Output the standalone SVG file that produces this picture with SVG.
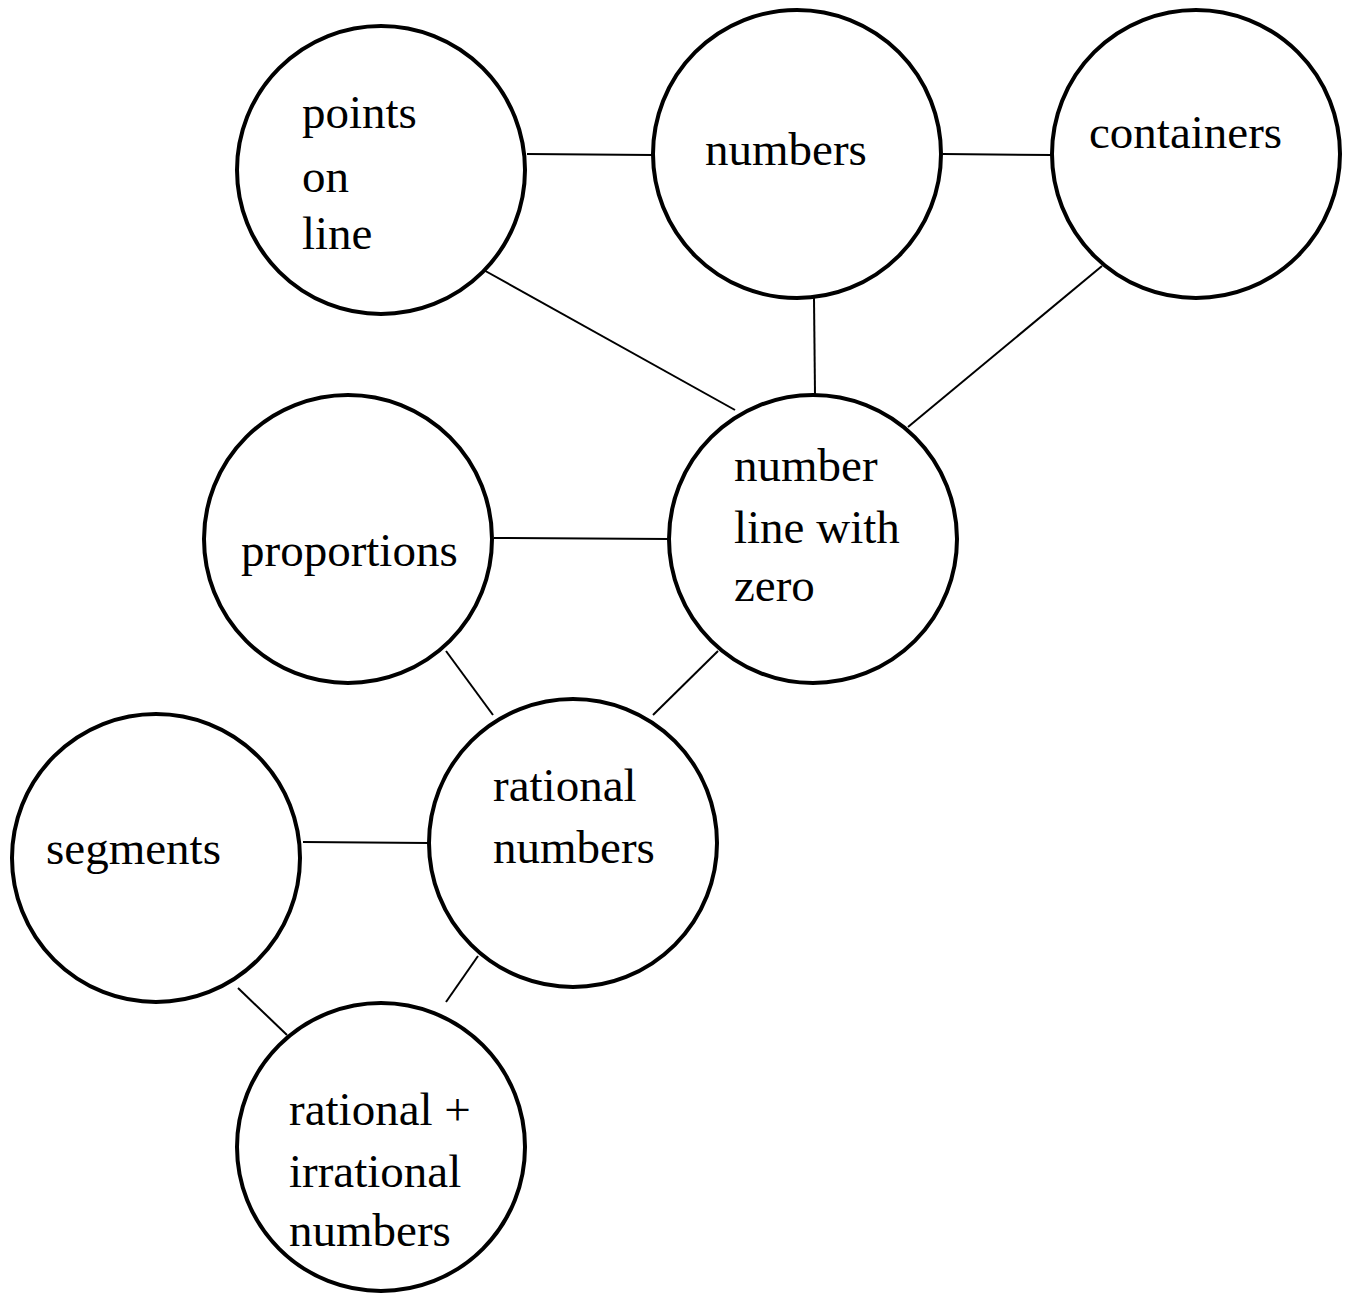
<svg xmlns="http://www.w3.org/2000/svg" width="1346" height="1297" viewBox="0 0 1346 1297">
<style>
.n{fill:#fff;stroke:#000;stroke-width:4}
.e{stroke:#000;stroke-width:2;fill:none}
text{font-family:"Liberation Serif","Times New Roman",serif;font-size:47px;fill:#000}
</style>
<rect width="1346" height="1297" fill="#fff"/>
<g id="connectors">
<line class="e" x1="527" y1="154" x2="653" y2="155"/>
<line class="e" x1="943" y1="154" x2="1052" y2="155"/>
<line class="e" x1="480" y1="268" x2="735" y2="410"/>
<line class="e" x1="814" y1="298" x2="815" y2="395"/>
<line class="e" x1="1102" y1="266" x2="908" y2="427"/>
<line class="e" x1="494" y1="538" x2="669" y2="539"/>
<line class="e" x1="446" y1="651" x2="493" y2="715"/>
<line class="e" x1="718" y1="651" x2="653" y2="715"/>
<line class="e" x1="303" y1="842" x2="429" y2="843"/>
<line class="e" x1="238" y1="988" x2="287" y2="1035"/>
<line class="e" x1="478" y1="956" x2="446" y2="1002"/>
</g>
<g id="points-on-line"><circle class="n" cx="381" cy="170" r="144"/><text x="302" y="128">points</text><text x="302" y="192">on</text><text x="302" y="249">line</text></g>
<g id="numbers"><circle class="n" cx="797" cy="154" r="144"/><text x="705" y="165">numbers</text></g>
<g id="containers"><circle class="n" cx="1196" cy="154" r="144"/><text x="1089" y="148">containers</text></g>
<g id="number-line-with-zero"><circle class="n" cx="813" cy="539" r="144"/><text x="734" y="481">number</text><text x="734" y="543">line with</text><text x="734" y="601">zero</text></g>
<g id="proportions"><circle class="n" cx="348" cy="539" r="144"/><text x="241" y="566">proportions</text></g>
<g id="rational-numbers"><circle class="n" cx="573" cy="843" r="144"/><text x="493" y="801">rational</text><text x="493" y="863">numbers</text></g>
<g id="segments"><circle class="n" cx="156" cy="858" r="144"/><text x="46" y="864">segments</text></g>
<g id="rational-irrational-numbers"><circle class="n" cx="381" cy="1147" r="144"/><text x="289" y="1125">rational +</text><text x="289" y="1187">irrational</text><text x="289" y="1246">numbers</text></g>
</svg>
